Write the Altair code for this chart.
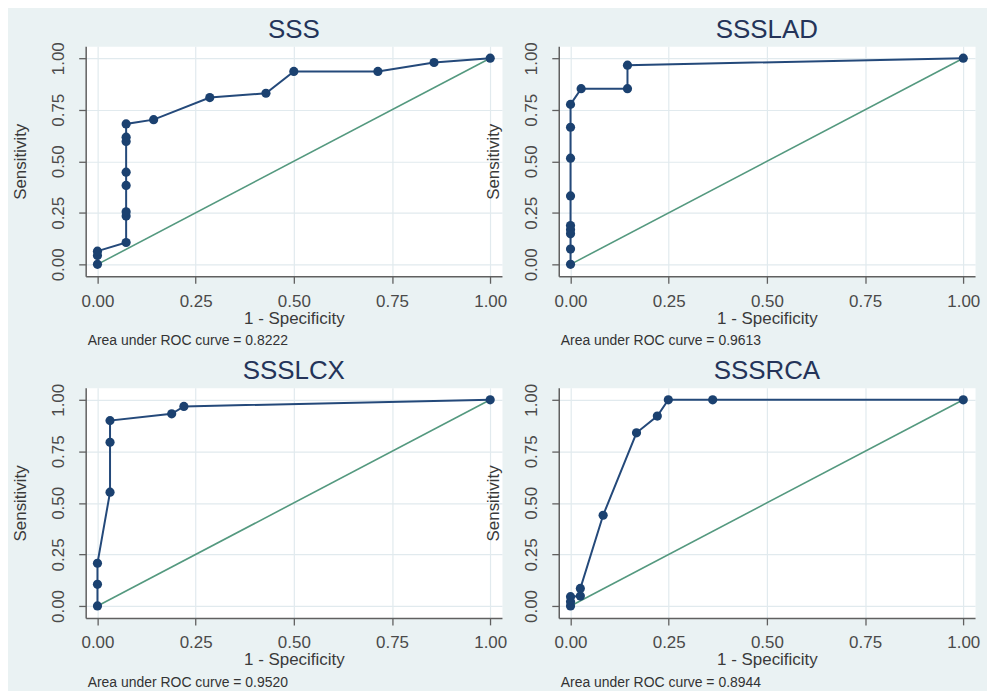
import altair as alt
import pandas as pd

# ---- data ----
panel_names = ["SSS", "SSSLAD", "SSSLCX", "SSSRCA"]
auc_values = [0.8222, 0.9613, 0.9520, 0.8944]

sss_fpr = [0, 0, 0, 0.073, 0.073, 0.073, 0.073, 0.073, 0.073, 0.073, 0.073,
           0.143, 0.286, 0.429, 0.5, 0.714, 0.857, 1]
sss_sens = [0, 0.043, 0.064, 0.106, 0.234, 0.255, 0.383, 0.447, 0.596, 0.617,
            0.681, 0.702, 0.809, 0.830, 0.936, 0.936, 0.979, 1]

lad_fpr = [0, 0, 0, 0, 0, 0, 0, 0, 0, 0.027, 0.145, 0.145, 1]
lad_sens = [0, 0.074, 0.148, 0.168, 0.188, 0.332, 0.515, 0.665, 0.776,
            0.852, 0.852, 0.966, 1]

lcx_fpr = [0, 0, 0, 0.032, 0.032, 0.032, 0.189, 0.22, 1]
lcx_sens = [0, 0.105, 0.207, 0.552, 0.794, 0.899, 0.932, 0.968, 1]

rca_fpr = [0, 0, 0, 0.025, 0.025, 0.083, 0.168, 0.221, 0.249, 0.362, 1]
rca_sens = [0, 0.02, 0.045, 0.048, 0.085, 0.44, 0.84, 0.921, 1, 1, 1]

ref_line = [0, 1]
tick_values = [0, 0.25, 0.5, 0.75, 1]

# ---- styles ----
FONT = "Liberation Sans"
NAVY = "#1b4170"
LINE = "#24497a"
GREEN = "#54997f"
BG = "#eaf2f3"
GRID = "#e1eaee"
AXIS = "#606060"
LABEL = "#4a4a4a"
TITLE = "#243459"

W, H = 418, 231


def panel(name, fpr, sens, auc):
    df = pd.DataFrame({"fpr": fpr, "sens": sens, "order": list(range(len(fpr)))})
    ref = pd.DataFrame({"fpr": ref_line, "sens": ref_line})
    note = pd.DataFrame({"t": [f"Area under ROC curve = {auc:.4f}"]})

    xaxis = alt.Axis(values=tick_values, format=".2f", title="1 - Specificity",
                     labelFlush=False, labelOverlap=False,
                     labelBaseline="alphabetic", labelPadding=23,
                     titleBaseline="alphabetic", titlePadding=14)
    yaxis = alt.Axis(values=tick_values, format=".2f", title="Sensitivity",
                     labelAngle=270, labelAlign="center",
                     labelBaseline="alphabetic", labelPadding=15,
                     labelFlush=False, labelOverlap=False,
                     titleBaseline="alphabetic", titlePadding=24)
    x = alt.X("fpr:Q", scale=alt.Scale(domain=[-0.03, 1.03], nice=False, zero=False), axis=xaxis)
    y = alt.Y("sens:Q", scale=alt.Scale(domain=[-0.058, 1.058], nice=False, zero=False), axis=yaxis)

    diag = alt.Chart(ref).mark_line(color=GREEN, strokeWidth=1.6).encode(x=x, y=y)
    roc = alt.Chart(df).mark_line(color=LINE, strokeWidth=2).encode(x=x, y=y, order="order:Q")
    pts = alt.Chart(df).mark_circle(color=NAVY, size=85, opacity=1).encode(x=x, y=y)
    txt = alt.Chart(note).mark_text(align="left", baseline="alphabetic", fontSize=14,
                                    font=FONT, color="#333333").encode(
        x=alt.value(2), y=alt.value(H + 69), text="t:N")

    return alt.layer(diag, roc, pts, txt).properties(
        width=W, height=H,
        title=alt.TitleParams(name, fontSize=26, font=FONT, fontWeight="normal",
                              color=TITLE, anchor="middle", frame="group",
                              baseline="alphabetic", offset=-22))


panels = [
    panel(panel_names[0], sss_fpr, sss_sens, auc_values[0]),
    panel(panel_names[1], lad_fpr, lad_sens, auc_values[1]),
    panel(panel_names[2], lcx_fpr, lcx_sens, auc_values[2]),
    panel(panel_names[3], rca_fpr, rca_sens, auc_values[3]),
]

chart = alt.concat(*panels, columns=2, spacing={"row": 112, "column": 57},
                   bounds="flush").properties(
    background=BG,
    padding={"left": 3, "top": 6, "right": 6, "bottom": 1},
).configure_view(fill="white", stroke="transparent").configure_axis(
    labelFont=FONT, titleFont=FONT, labelFontSize=17, titleFontSize=17,
    labelColor=LABEL, titleColor="#3a3a3a", titleFontWeight="normal",
    domainColor=AXIS, domainWidth=1.5, tickColor=AXIS, tickWidth=1.3, tickSize=7,
    gridColor=GRID, gridWidth=1.2,
)

chart.save("out.html", embed_options={"renderer": "svg", "actions": False})
